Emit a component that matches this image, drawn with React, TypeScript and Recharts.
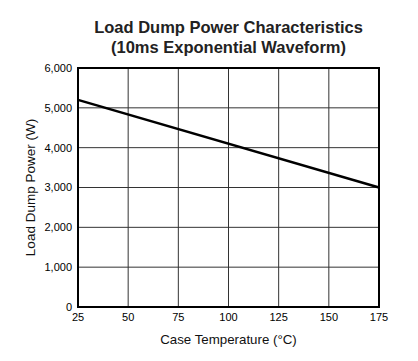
import React from 'react';
import { LineChart, Line, XAxis, YAxis, CartesianGrid, ReferenceArea } from 'recharts';

const temperatures = [25, 175];
const powerValues = [5200, 3000];
const xTicks = [25, 50, 75, 100, 125, 150, 175];
const yTicks = [0, 1000, 2000, 3000, 4000, 5000, 6000];
const titleLines = ['Load Dump Power Characteristics', '(10ms Exponential Waveform)'];

const data = temperatures.map((t, i) => ({ t, p: powerValues[i] }));
const font = '"Liberation Sans", Arial, Helvetica, sans-serif';

export default function App() {
  return (
    <div style={{ position: 'absolute', left: 0, top: 0, width: 418, height: 361, background: '#fff', fontFamily: font }}>
      <div style={{ position: 'absolute', left: 0, width: 457, top: 17, textAlign: 'center', fontWeight: 'bold', fontSize: 16.5, lineHeight: '20px', color: '#222' }}>
        {titleLines.map((l) => (
          <div key={l}>{l}</div>
        ))}
      </div>
      <div style={{ position: 'absolute', top: 0, left: 0 }}>
        <LineChart width={418} height={361} data={data} margin={{ top: 68, right: 39, bottom: 24, left: 0 }}>
          <CartesianGrid stroke="#333" strokeWidth={1} />
          <XAxis
            dataKey="t"
            type="number"
            domain={[25, 175]}
            ticks={xTicks}
            axisLine={false}
            tickLine={false}
            height={30}
            tick={{ fontSize: 11, fill: '#000', fontFamily: font }}
            tickMargin={0}
            label={{ value: 'Case Temperature (°C)', position: 'bottom', offset: -2, fontSize: 13.3, fill: '#111', fontFamily: font }}
          />
          <YAxis
            type="number"
            domain={[0, 6000]}
            ticks={yTicks}
            width={78}
            axisLine={false}
            tickLine={false}
            tick={{ fontSize: 11, fill: '#000', fontFamily: font }}
            tickMargin={0}
            tickFormatter={(v: number) => v.toLocaleString('en-US')}
            label={{ value: 'Load Dump Power (W)', angle: -90, position: 'center', dx: -9, fontSize: 13.5, fill: '#111', fontFamily: font }}
          />
          <ReferenceArea x1={25} x2={175} y1={0} y2={6000} fill="none" stroke="#000" strokeWidth={2} fillOpacity={0} />
          <Line dataKey="p" stroke="#000" strokeWidth={2.5} dot={false} isAnimationActive={false} />
        </LineChart>
      </div>
    </div>
  );
}
